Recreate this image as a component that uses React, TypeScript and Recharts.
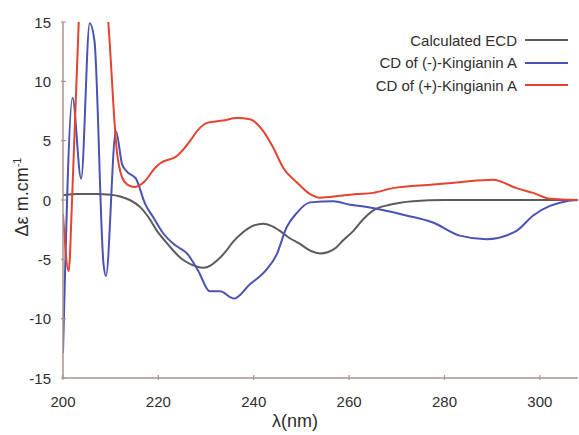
import React from "react";
import { LineChart, Line, XAxis, YAxis } from "recharts";

// wavelength (nm) / Δε values
const calcNm = [200, 203, 207, 210, 212, 214, 216.2, 218, 219.7, 221.5, 223.2, 225, 226.7, 229.4, 231, 232.3, 234, 235.7, 237.5, 239.2, 242, 243.8, 245.5, 247.5, 249.7, 252, 253.9, 255.5, 257.3, 258.5, 260.9, 263, 265, 268.5, 273.4, 280, 308];
const calcEcd = [0.4, 0.5, 0.5, 0.45, 0.3, 0, -0.6, -1.5, -2.6, -3.5, -4.3, -5.0, -5.4, -5.7, -5.5, -5.1, -4.4, -3.5, -2.8, -2.3, -2.0, -2.2, -2.6, -3.2, -3.7, -4.3, -4.5, -4.4, -4.0, -3.5, -2.6, -1.6, -0.9, -0.4, -0.1, 0, 0];

const minusNm = [200, 202, 203.8, 205.6, 206.6, 208.5, 209, 211.1, 212.4, 213.4, 215.3, 217.2, 219, 221, 223.5, 226, 228.4, 230.8, 232.9, 235.9, 239.2, 242.4, 244.8, 246.9, 249, 251.8, 256.7, 260.2, 262.3, 266.5, 272, 277.6, 283.2, 288.8, 295.1, 298.6, 302.1, 305.6, 308];
const minusCd = [-12.9, 8.6, 1.8, 14.9, 13.4, -5.4, -6.4, 5.8, 3.0, 2.4, 1.8, -0.3, -1.5, -2.8, -3.8, -4.5, -6.0, -7.7, -7.7, -8.3, -7.1, -6.0, -4.6, -2.3, -1.1, -0.2, -0.1, -0.4, -0.5, -0.8, -1.3, -1.9, -3.0, -3.3, -2.6, -1.3, -0.5, -0.1, 0];

const plusNm = [200, 201.2, 201.9, 203.3, 204.5, 206, 208, 209.5, 211.3, 212.4, 213.5, 215.1, 217.2, 219.3, 220.4, 223.9, 226.7, 228.1, 230.2, 233.6, 236.4, 239.2, 242, 244.1, 246.2, 249, 251.8, 253.9, 258.1, 261.6, 265, 269.2, 277.6, 283.2, 290.2, 295.1, 298.6, 302.1, 308];
const plusCd = [-1.2, -6.0, 0, 15, 24, 27, 22, 15, 4.1, 1.9, 1.3, 1.1, 1.6, 2.7, 3.1, 3.7, 5.0, 5.8, 6.5, 6.7, 6.9, 6.8, 5.8, 4.4, 2.7, 1.5, 0.5, 0.2, 0.35, 0.5, 0.6, 1.0, 1.3, 1.5, 1.7, 1.0, 0.6, 0.1, 0];

const xTicks = [200, 220, 240, 260, 280, 300];
const yTicks = [-15, -10, -5, 0, 5, 10, 15];

const series = [
  { name: "Calculated ECD", color: "#5b5b5b", nm: calcNm, vals: calcEcd },
  { name: "CD of (-)-Kingianin A", color: "#4a52b4", nm: minusNm, vals: minusCd },
  { name: "CD of (+)-Kingianin A", color: "#e4432f", nm: plusNm, vals: plusCd },
];

const AXIS = "#a8958f";
const FONT = "'Liberation Sans', Arial, sans-serif";

const BottomTick = (props: any) => {
  const { x, y, payload } = props;
  return (
    <g>
      <line x1={x} y1={y} x2={x} y2={y - 5} stroke={AXIS} strokeWidth={1.2} />
      <text x={x} y={y + 21} textAnchor="middle" dominantBaseline="central" fontSize={15} fill="#2e2e2e" fontFamily={FONT}>
        {payload.value}
      </text>
    </g>
  );
};

const TopTick = (props: any) => {
  const { x, y } = props;
  return <line x1={x} y1={y} x2={x} y2={y + 5} stroke={AXIS} strokeWidth={1.2} />;
};

const LeftTick = (props: any) => {
  const { x, y, payload } = props;
  return (
    <g>
      <line x1={x} y1={y} x2={x + 5} y2={y} stroke={AXIS} strokeWidth={1.2} />
      <text x={x - 10} y={y} textAnchor="end" dominantBaseline="central" fontSize={15} fill="#2e2e2e" fontFamily={FONT}>
        {payload.value}
      </text>
    </g>
  );
};

export default function App() {
  return (
    <div style={{ position: "absolute", left: 0, top: 0, width: 579, height: 435, background: "#fff", fontFamily: FONT }}>
      <LineChart width={579} height={435} margin={{ top: 22, right: 1, bottom: 0, left: 0 }}>
        <XAxis
          dataKey="x"
          type="number"
          domain={[200, 308]}
          ticks={xTicks}
          allowDataOverflow
          height={57}
          tickSize={0}
          tickLine={false}
          tick={<BottomTick />}
          axisLine={{ stroke: AXIS, strokeWidth: 1.5 }}
        />
        <XAxis
          xAxisId="top"
          orientation="top"
          dataKey="x"
          type="number"
          domain={[200, 308]}
          ticks={xTicks}
          allowDataOverflow
          height={0}
          tickSize={0}
          tickLine={false}
          tick={<TopTick />}
          axisLine={{ stroke: AXIS, strokeWidth: 1.5 }}
        />
        <YAxis
          type="number"
          domain={[-15, 15]}
          ticks={yTicks}
          allowDataOverflow
          width={63}
          tickSize={0}
          tickLine={false}
          tick={<LeftTick />}
          axisLine={{ stroke: AXIS, strokeWidth: 1.5 }}
        />
        {series.map((s) => (
          <Line
            key={s.name}
            data={s.nm.map((x, i) => ({ x, y: s.vals[i] }))}
            dataKey="y"
            type="monotone"
            stroke={s.color}
            strokeWidth={2}
            dot={false}
            isAnimationActive={false}
          />
        ))}
      </LineChart>

      <div
        style={{
          position: "absolute",
          left: 22,
          top: 197,
          transform: "translate(-50%, -50%) rotate(-90deg)",
          whiteSpace: "nowrap",
          fontSize: 18,
          color: "#2e2e2e",
        }}
      >
        Δε m.cm<sup style={{ fontSize: 11 }}>-1</sup>
      </div>
      <div
        style={{
          position: "absolute",
          left: 295,
          top: 421,
          transform: "translate(-50%, -50%)",
          whiteSpace: "nowrap",
          fontSize: 18,
          color: "#2e2e2e",
        }}
      >
        λ(nm)
      </div>

      {series.map((s, i) => (
        <div key={s.name} style={{ position: "absolute", top: 40 + i * 22.5 - 10, right: 579 - 568, height: 20, display: "flex", alignItems: "center", fontSize: 15, color: "#2e2e2e" }}>
          <span style={{ whiteSpace: "nowrap" }}>{s.name}</span>
          <span style={{ display: "inline-block", width: 43, height: 2, background: s.color, marginLeft: 8 }} />
        </div>
      ))}
    </div>
  );
}
